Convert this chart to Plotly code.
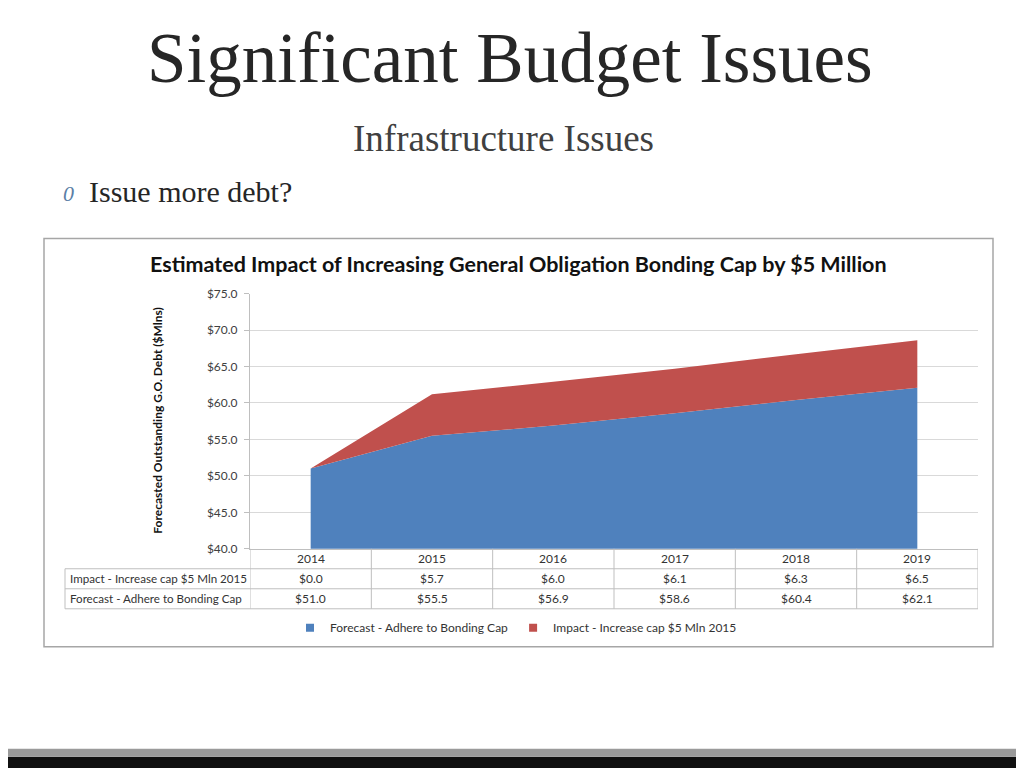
import plotly.graph_objects as go

# data
years = [2014, 2015, 2016, 2017, 2018, 2019]
forecast = [51.0, 55.5, 56.9, 58.6, 60.4, 62.1]
impact = [0.0, 5.7, 6.0, 6.1, 6.3, 6.5]
forecast_name = "Forecast - Adhere to Bonding Cap"
impact_name = "Impact - Increase cap $5 Mln 2015"
y_ticks = [40, 45, 50, 55, 60, 65, 70, 75]

# page offsets seen in the rendered screenshot (body margin etc.)
X_OFF = 8
Y_OFF, Y_SCALE = 15.5, 0.98
W, H = 1024 - 2 * X_OFF, 768
BLUE = "#4F81BD"
RED = "#C0504D"
GRID = "#D9D9D9"
SERIF = "Liberation Serif, DejaVu Serif, serif"
SANS = "Lato, Open Sans, Liberation Sans, sans-serif"


def px(x):
    return (x - X_OFF) / W


def py(y):
    return 1 - ((y - Y_OFF) / Y_SCALE) / H


def text(x, y, s, size, family=SANS, color="#333333", xanchor="center", angle=0, xref="paper"):
    return dict(x=x if xref != "paper" else px(x), y=py(y), xref=xref, yref="paper", text=s,
                xanchor=xanchor, yanchor="middle", textangle=angle, showarrow=False,
                font=dict(family=family, size=size, color=color))


fig = go.Figure()
fig.add_trace(go.Scatter(
    x=years, y=forecast, name=forecast_name, stackgroup="one",
    mode="none", fillcolor=BLUE, line=dict(width=0), showlegend=False,
))
fig.add_trace(go.Scatter(
    x=years, y=impact, name=impact_name, stackgroup="one",
    mode="none", fillcolor=RED, line=dict(width=0), showlegend=False,
))
# square legend keys like the Excel chart
for name, col in [(forecast_name, BLUE), (impact_name, RED)]:
    fig.add_trace(go.Scatter(
        x=[None], y=[None], name=name, mode="markers",
        marker=dict(symbol="square", size=8, color=col),
    ))

shapes = []
annotations = []

# slide edges
shapes.append(dict(type="rect", xref="paper", yref="paper", x0=px(1018), x1=1, y0=0, y1=1,
                   fillcolor="#111111", line=dict(width=0), layer="below"))
shapes.append(dict(type="rect", xref="paper", yref="paper", x0=0, x1=1, y0=0, y1=py(756),
                   fillcolor="#111111", line=dict(width=0), layer="below"))
shapes.append(dict(type="rect", xref="paper", yref="paper", x0=0, x1=px(1016), y0=py(756), y1=py(748),
                   fillcolor="#9A9A9A", line=dict(width=0), layer="below"))

# chart frame
shapes.append(dict(type="rect", xref="paper", yref="paper", x0=px(44), x1=px(993), y0=py(646), y1=py(238),
                   line=dict(color="#A6A6A6", width=1.5), layer="below"))

# data table grid (column edges in data coords)
row_y = [548, 568, 588, 608]
for k in range(len(years) + 1):
    xe = years[0] - 0.5 + k
    shapes.append(dict(type="line", xref="x", yref="paper", x0=xe, x1=xe, y0=py(548), y1=py(608),
                       line=dict(color="#BFBFBF", width=1)))
shapes.append(dict(type="line", xref="paper", yref="paper", x0=px(65), x1=px(65), y0=py(568), y1=py(608),
                   line=dict(color="#BFBFBF", width=1)))
for yy in row_y[1:]:
    shapes.append(dict(type="line", xref="paper", yref="paper", x0=px(65), x1=px(978), y0=py(yy), y1=py(yy),
                       line=dict(color="#BFBFBF", width=1)))

for i, yr in enumerate(years):
    annotations.append(text(yr, 558, str(yr), 12, xref="x"))
    annotations.append(text(yr, 578, f"${impact[i]:.1f}", 12, xref="x"))
    annotations.append(text(yr, 598, f"${forecast[i]:.1f}", 12, xref="x"))
annotations.append(text(68, 578, impact_name, 11.6, xanchor="left"))
annotations.append(text(68, 598, forecast_name, 11.6, xanchor="left"))

# slide texts
annotations.append(text(510, 57, "Significant Budget Issues", 71, family=SERIF, color="#262626"))
annotations.append(text(503, 138, "Infrastructure Issues", 37, family=SERIF, color="#404040"))
annotations.append(text(61, 193, "<i>0</i>", 22, family=SERIF, color="#5B7FA6", xanchor="left"))
annotations.append(text(87, 191, "Issue more debt?", 30, family=SERIF, color="#262626", xanchor="left"))

# chart title and y axis title
annotations.append(text(518, 263, "<b>Estimated Impact of Increasing General Obligation Bonding Cap by $5 Million</b>",
                        21.5, color="#111111"))
annotations.append(text(158, 420, "<b>Forecasted Outstanding G.O. Debt ($Mlns)</b>", 12,
                        color="#111111", angle=-90))

fig.update_layout(
    width=W, height=H,
    margin=dict(l=0, r=0, t=0, b=0),
    paper_bgcolor="white",
    plot_bgcolor="white",
    font=dict(family=SANS, size=12, color="#333333"),
    shapes=shapes,
    annotations=annotations,
    showlegend=True,
    legend=dict(orientation="h", x=px(516), xanchor="center", y=py(627), yanchor="middle",
                font=dict(family=SANS, size=12, color="#333333"), traceorder="normal",
                itemwidth=30),
)
fig.update_xaxes(
    domain=[px(250), px(978)], range=[years[0] - 0.5, years[-1] + 0.5],
    showticklabels=False, showgrid=False, zeroline=False, showline=True, linecolor="#BFBFBF", ticks="",
)
fig.update_yaxes(
    domain=[py(548), py(293)], range=[y_ticks[0], y_ticks[-1]], tickvals=y_ticks,
    tickformat="$.1f", showgrid=True, gridcolor=GRID, gridwidth=1,
    zeroline=False, showline=True, linecolor="#BFBFBF", ticks="outside", ticklen=5,
    tickcolor="#BFBFBF", ticklabelstandoff=4, tickfont=dict(family=SANS, size=12, color="#404040"),
)

fig.write_html("out.html")
